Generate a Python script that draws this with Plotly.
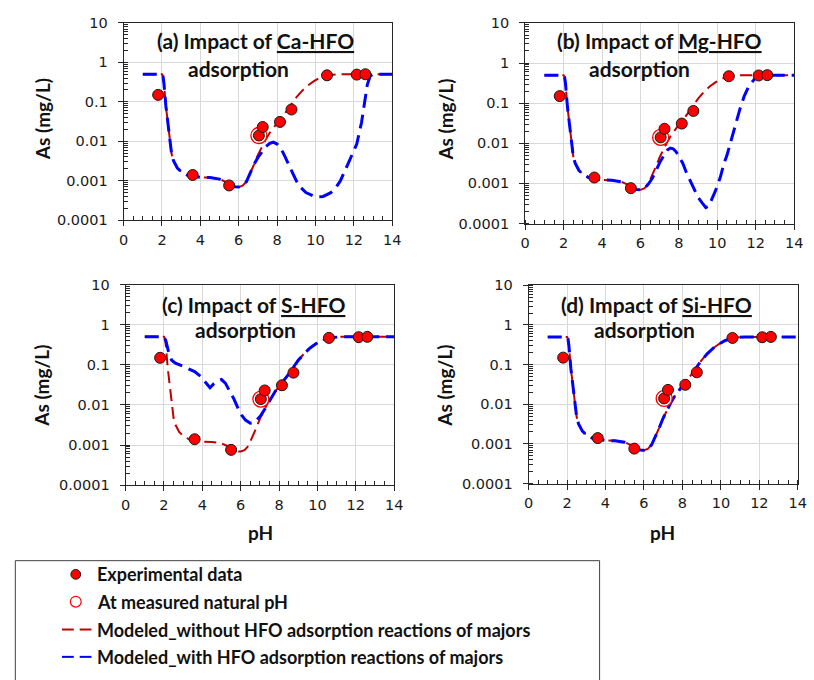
import plotly.graph_objects as go

W, H = 814, 680

# Experimental dissolved As (mg/L) versus pH, shared by all four panels
exp_ph = [1.8, 3.6, 5.5, 7.05, 7.25, 8.15, 8.75, 10.6, 12.15, 12.6]
exp_as = [0.15, 0.0014, 0.00076, 0.014, 0.023, 0.031, 0.064, 0.47, 0.49, 0.5]

# Sample at its measured natural pH
natural_ph = [7.05]
natural_as = [0.014]

# Model without HFO adsorption reactions of the major ions
red_ph = [1.0, 2.0, 2.05, 2.1, 2.2, 2.3, 2.4, 2.5, 2.6, 2.8, 3.0, 3.3, 3.6, 4.0, 4.5,
          5.0, 5.3, 5.6, 5.8, 6.0, 6.2, 6.4, 6.6, 6.8, 7.0, 7.2, 7.4, 7.6, 7.8, 8.0,
          8.2, 8.4, 8.6, 8.8, 9.0, 9.3, 9.6, 9.9, 10.2, 10.5, 10.8, 11.2, 14.0]
red_as = [0.5, 0.5, 0.45, 0.3, 0.08, 0.03, 0.009, 0.0048, 0.0032, 0.0021, 0.0017,
          0.0014, 0.0013, 0.00122, 0.0012, 0.0011, 0.00095, 0.00078, 0.0007, 0.00069,
          0.00075, 0.00095, 0.0015, 0.0026, 0.0045, 0.0072, 0.011, 0.016, 0.022, 0.029,
          0.038, 0.05, 0.068, 0.095, 0.13, 0.19, 0.26, 0.33, 0.4, 0.45, 0.48, 0.5, 0.5]

# Model with HFO adsorption reactions of the major ions
blue_a_ph = [1.0, 2.0, 2.05, 2.1, 2.2, 2.3, 2.4, 2.5, 2.6, 2.8, 3.0, 3.3, 3.6, 4.0, 4.5,
             5.0, 5.3, 5.6, 5.8, 6.0, 6.2, 6.4, 6.6, 6.8, 7.0, 7.2, 7.4, 7.6, 7.8, 8.0,
             8.2, 8.4, 8.6, 8.8, 9.0, 9.2, 9.5, 9.8, 10.0, 10.4, 10.8, 11.0, 11.3, 11.6,
             11.9, 12.15, 12.4, 12.55, 12.7, 12.85, 13.0, 14.0]
blue_a_as = [0.5, 0.5, 0.45, 0.3, 0.08, 0.03, 0.009, 0.0048, 0.0032, 0.0021, 0.0017,
             0.0014, 0.0013, 0.00122, 0.0012, 0.0011, 0.00095, 0.00078, 0.0007, 0.00069,
             0.00075, 0.00095, 0.0016, 0.0026, 0.0039, 0.0055, 0.0072, 0.0087, 0.0095,
             0.0085, 0.0065, 0.0042, 0.0025, 0.0016, 0.001, 0.0007, 0.0005, 0.00042,
             0.00039, 0.0004, 0.0005, 0.0006, 0.001, 0.0021, 0.0045, 0.0085, 0.03, 0.1,
             0.27, 0.45, 0.5, 0.5]

blue_b_ph = [1.0, 2.0, 2.05, 2.1, 2.2, 2.3, 2.4, 2.5, 2.6, 2.8, 3.0, 3.3, 3.6, 4.0, 4.5,
             5.0, 5.3, 5.6, 5.8, 6.0, 6.2, 6.4, 6.6, 6.85, 7.0, 7.2, 7.4, 7.55, 7.7, 7.85,
             8.0, 8.2, 8.4, 8.6, 8.8, 9.0, 9.2, 9.4, 9.55, 9.7, 9.9, 10.15, 10.35, 10.5,
             10.65, 10.83, 11.0, 11.17, 11.4, 11.63, 11.97, 12.3, 12.6, 14.0]
blue_b_as = [0.5, 0.5, 0.45, 0.3, 0.08, 0.03, 0.009, 0.0048, 0.0032, 0.0021, 0.0017,
             0.0014, 0.0013, 0.00122, 0.0012, 0.0011, 0.00095, 0.00078, 0.0007, 0.00069,
             0.00075, 0.00095, 0.0013, 0.0023, 0.0033, 0.0048, 0.0068, 0.0076, 0.0073,
             0.0062, 0.0047, 0.0032, 0.0018, 0.0011, 0.00068, 0.00045, 0.00033, 0.00025,
             0.00027, 0.00038, 0.00065, 0.0014, 0.0032, 0.005, 0.009, 0.019, 0.038, 0.07,
             0.15, 0.26, 0.42, 0.48, 0.5, 0.5]

blue_c_ph = [1.0, 2.0, 2.1, 2.25, 2.4, 2.6, 3.0, 3.3, 3.6, 3.9, 4.15, 4.4, 4.6, 4.8, 5.0,
             5.2, 5.45, 5.65, 5.85, 6.05, 6.25, 6.5, 6.7, 6.9, 7.05, 7.25, 7.45, 7.6, 7.8,
             8.0, 8.2, 8.4, 8.6, 8.8, 9.0, 9.3, 9.6, 9.9, 10.2, 10.5, 10.8, 11.2, 14.0]
blue_c_as = [0.5, 0.5, 0.4, 0.2, 0.13, 0.11, 0.092, 0.08, 0.068, 0.052, 0.037, 0.027,
             0.034, 0.04, 0.043, 0.035, 0.021, 0.014, 0.0085, 0.0056, 0.0042, 0.0035,
             0.0036, 0.0045, 0.0055, 0.0078, 0.0117, 0.016, 0.022, 0.029, 0.038, 0.05,
             0.068, 0.095, 0.13, 0.19, 0.26, 0.33, 0.4, 0.45, 0.48, 0.5, 0.5]

# With Si-HFO reactions the model coincides with the curve without major-ion adsorption
blue_d_ph = red_ph
blue_d_as = red_as

panel_titles = [
    ("(a) Impact of <u>Ca-HFO</u>", "adsorption"),
    ("(b) Impact of <u>Mg-HFO</u>", "adsorption"),
    ("(c) Impact of <u>S-HFO</u>", "adsorption"),
    ("(d) Impact of <u>Si-HFO</u>", "adsorption"),
]
y_tick_vals = [0.0001, 0.001, 0.01, 0.1, 1, 10]
y_tick_text = ["0.0001", "0.001", "0.01", "0.1", "1", "10"]
x_tick_vals = [0, 2, 4, 6, 8, 10, 12, 14]
legend_labels = ["Experimental data", "At measured natural pH",
                 "Modeled_without HFO adsorption reactions of majors",
                 "Modeled_with HFO adsorption reactions of majors"]

RED_MARK = "#ff0000"
RED_LINE = "#c00000"
BLUE_LINE = "#0000ff"
TICK_FONT = dict(family="DejaVu Sans", size=14.5, color="#1a1a1a")
BOLD = "Lato"


def px_x(p):
    return p / W


def px_y(p):
    return 1 - p / H


# plot-area boxes in pixels: (left, right, top, bottom)
boxes = [(120.7, 394.0, 15.3, 217.3),
         (529.3, 803.0, 15.3, 220.7),
         (122.7, 396.0, 283.3, 488.7),
         (532.7, 806.7, 284.0, 487.0)]

blues = [(blue_a_ph, blue_a_as), (blue_b_ph, blue_b_as),
         (blue_c_ph, blue_c_as), (blue_d_ph, blue_d_as)]

fig = go.Figure()
layout = dict(width=W, height=H, margin=dict(l=0, r=0, t=0, b=0),
              paper_bgcolor="white", plot_bgcolor="white", showlegend=False,
              font=dict(family="DejaVu Sans"))

for i, (box, (bph, bas)) in enumerate(zip(boxes, blues)):
    n = "" if i == 0 else str(i + 1)
    xa, ya = "x" + n, "y" + n
    l, r, t, b = box
    layout["xaxis" + n] = dict(
        domain=[px_x(l), px_x(r)], anchor=ya, range=[0, 14],
        tickmode="array", tickvals=x_tick_vals, tickfont=TICK_FONT,
        showgrid=True, gridcolor="#d9d9d9", gridwidth=1, zeroline=False,
        showline=True, linecolor="#262626", linewidth=1, mirror=True,
        ticks="outside", ticklen=5, tickcolor="#262626", ticklabelstandoff=1,
        minor=dict(dtick=0.5, tick0=0, ticks="inside", ticklen=4,
                   tickcolor="#262626", showgrid=False),
    )
    layout["yaxis" + n] = dict(
        domain=[px_y(b), px_y(t)], anchor=xa, type="log", range=[-4, 1],
        tickmode="array", tickvals=y_tick_vals, ticktext=y_tick_text,
        tickfont=TICK_FONT, showgrid=True, gridcolor="#d9d9d9", gridwidth=1,
        zeroline=False, showline=True, linecolor="#262626", linewidth=1,
        mirror=True, ticks="outside", ticklen=5, tickcolor="#262626",
        ticklabelstandoff=7,
        minor=dict(dtick="D1", ticks="inside", ticklen=4,
                   tickcolor="#262626", showgrid=False),
    )
    fig.add_trace(go.Scatter(x=red_ph, y=red_as, mode="lines", xaxis=xa, yaxis=ya,
                             line=dict(color=RED_LINE, width=2, dash="12px,6px")))
    fig.add_trace(go.Scatter(x=bph, y=bas, mode="lines", xaxis=xa, yaxis=ya,
                             line=dict(color=BLUE_LINE, width=3, dash="14px,7px")))
    fig.add_trace(go.Scatter(x=natural_ph, y=natural_as, mode="markers",
                             xaxis=xa, yaxis=ya,
                             marker=dict(size=16, color="white",
                                         line=dict(color=RED_MARK, width=1.3))))
    fig.add_trace(go.Scatter(x=exp_ph, y=exp_as, mode="markers", xaxis=xa, yaxis=ya,
                             marker=dict(size=11, color=RED_MARK,
                                         line=dict(color="#1a1a1a", width=1))))

annotations = []
title_pos = [((255, 33), (238, 62)), ((665.5, 33), (646, 62)),
             ((253.3, 304), (245, 329)), ((663, 304), (650.5, 329))]
for (l1, l2), ((x1, y1), (x2, y2)) in zip(panel_titles, title_pos):
    annotations.append(dict(text="<b>" + l1 + "</b>", x=px_x(x1), y=px_y(y1),
                            xref="paper", yref="paper", showarrow=False,
                            xanchor="center", yanchor="middle",
                            font=dict(family=BOLD, size=21, color="#111")))
    annotations.append(dict(text="<b>" + l2 + "</b>", x=px_x(x2), y=px_y(y2),
                            xref="paper", yref="paper", showarrow=False,
                            xanchor="center", yanchor="middle",
                            font=dict(family=BOLD, size=21, color="#111")))

for (xc, yc) in [(37.5, 114), (448, 114), (37.5, 387), (447.5, 387)]:
    annotations.append(dict(text="<b>As (mg/L)</b>", x=px_x(xc), y=px_y(yc),
                            xref="paper", yref="paper", showarrow=False,
                            textangle=-90, xanchor="center", yanchor="middle",
                            font=dict(family=BOLD, size=19, color="#111")))
for (xc, yc) in [(260, 536.7), (669, 536.7)]:
    annotations.append(dict(text="<b>pH</b>", x=px_x(xc), y=px_y(yc),
                            xref="paper", yref="paper", showarrow=False,
                            xanchor="center", yanchor="middle",
                            font=dict(family=BOLD, size=19, color="#111")))

# legend box drawn in paper space
shapes = [dict(type="rect", xref="paper", yref="paper",
               x0=px_x(10.5), x1=px_x(605), y0=px_y(700), y1=px_y(566),
               line=dict(color="#404040", width=1), fillcolor="rgba(0,0,0,0)")]
row_y = [580, 608, 636.5, 664.5]
shapes.append(dict(type="circle", xref="paper", yref="paper",
                   x0=px_x(67), x1=px_x(77), y0=px_y(row_y[0] + 5), y1=px_y(row_y[0] - 5),
                   fillcolor=RED_MARK, line=dict(color="#1a1a1a", width=1)))
shapes.append(dict(type="circle", xref="paper", yref="paper",
                   x0=px_x(66.5), x1=px_x(77.5), y0=px_y(row_y[1] + 5.5),
                   y1=px_y(row_y[1] - 5.5),
                   fillcolor="white", line=dict(color=RED_MARK, width=1.2)))
for yy, col in [(row_y[2], RED_LINE), (row_y[3], BLUE_LINE)]:
    for a, bb in [(58, 70), (76, 88)]:
        shapes.append(dict(type="line", xref="paper", yref="paper",
                           x0=px_x(a), x1=px_x(bb), y0=px_y(yy), y1=px_y(yy),
                           line=dict(color=col, width=2)))
for lab, yy in zip(legend_labels, row_y):
    annotations.append(dict(text="<b>" + lab + "</b>", x=px_x(92), y=px_y(yy),
                            xref="paper", yref="paper", showarrow=False,
                            xanchor="left", yanchor="middle",
                            font=dict(family=BOLD, size=18, color="#111")))

layout["annotations"] = annotations
layout["shapes"] = shapes
fig.update_layout(**layout)
fig.write_html("out.html")
